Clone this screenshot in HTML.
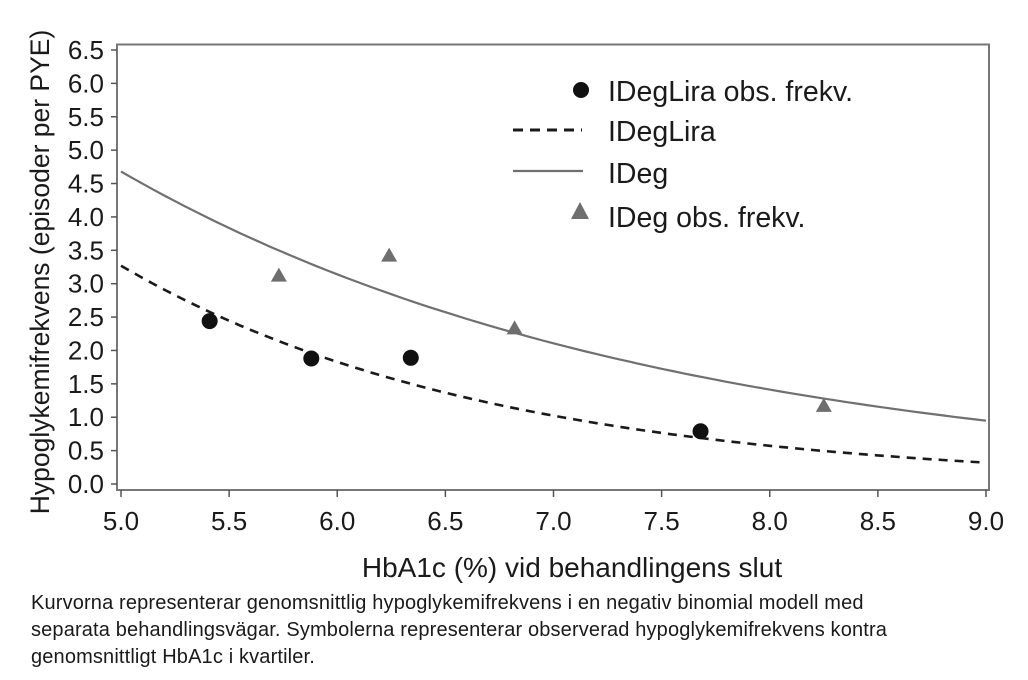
<!DOCTYPE html>
<html><head><meta charset="utf-8"><style>
body{margin:0;background:#fff;width:1028px;height:680px;overflow:hidden;font-family:"Liberation Sans","DejaVu Sans",sans-serif}
svg text{font-family:"Liberation Sans","DejaVu Sans",sans-serif;fill:#1a1a1a}
.cap{position:absolute;left:31px;top:590px;font-size:20px;letter-spacing:0.15px;line-height:27px;color:#1a1a1a;white-space:nowrap}
</style></head><body>
<svg id="s" width="1028" height="680" style="position:absolute;left:0;top:0">
<rect x="117" y="44.5" width="872" height="445.5" fill="none" stroke="#777" stroke-width="2"/>
<g id="ticks" stroke="#555" stroke-width="1.5"></g>
<g id="lbl" font-size="26"></g>
<path id="ideg" fill="none" stroke="#707070" stroke-width="2.2"/>
<path id="lira" fill="none" stroke="#1a1a1a" stroke-width="2.6" stroke-dasharray="9,7"/>
<g id="pts"></g>
<circle cx="581" cy="90" r="8" fill="#111"/>
<text x="608" y="101" font-size="28.5">IDegLira obs. frekv.</text>
<line x1="513" y1="130" x2="582" y2="130" stroke="#1a1a1a" stroke-width="3" stroke-dasharray="10,7"/>
<text x="608" y="141" font-size="28.5">IDegLira</text>
<line x1="513" y1="171" x2="583" y2="171" stroke="#707070" stroke-width="2.2"/>
<text x="608" y="183" font-size="28.5">IDeg</text>
<polygon points="580,202 571,219 589,219" fill="#6e6e6e"/>
<text x="608" y="227" font-size="28.5">IDeg obs. frekv.</text>
<text x="572" y="577" font-size="28" text-anchor="middle">HbA1c (%) vid behandlingens slut</text>
<text transform="translate(49,272) rotate(-90)" font-size="26.5" text-anchor="middle">Hypoglykemifrekvens (episoder per PYE)</text>
</svg>
<div class="cap">Kurvorna representerar genomsnittlig hypoglykemifrekvens i en negativ binomial modell med<br>separata behandlingsvägar. Symbolerna representerar observerad hypoglykemifrekvens kontra<br>genomsnittligt HbA1c i kvartiler.</div>
<script>
const px=x=>121+(x-5)*216.25, py=y=>484-y*66.77;
let t='',l='';
for(let i=0;i<=13;i++){const y=py(i*0.5);t+=`<line x1="111" y1="${y}" x2="117" y2="${y}"/>`;l+=`<text x="104" y="${y+9}" text-anchor="end">${(i*0.5).toFixed(1)}</text>`;}
for(let i=0;i<=8;i++){const x=px(5+i*0.5);t+=`<line x1="${x}" y1="490" x2="${x}" y2="497"/>`;l+=`<text x="${x}" y="530" text-anchor="middle">${(5+i*0.5).toFixed(1)}</text>`;}
document.getElementById('ticks').innerHTML=t;document.getElementById('lbl').innerHTML=l;
function curve(a,k){let d='';for(let x=5;x<=9.0001;x+=0.05){d+=(d?'L':'M')+px(x).toFixed(1)+','+py(a*Math.exp(k*(x-5))).toFixed(1);}return d;}
document.getElementById('ideg').setAttribute('d',curve(4.68,-0.399));
document.getElementById('lira').setAttribute('d',curve(3.27,-0.581));
let p='';
[[5.41,2.44],[5.88,1.88],[6.34,1.89],[7.68,0.79]].forEach(([x,y])=>p+=`<circle cx="${px(x)}" cy="${py(y)}" r="8" fill="#111"/>`);
[[5.73,3.12],[6.24,3.42],[6.82,2.33],[8.25,1.17]].forEach(([x,y])=>{const X=px(x),Y=py(y);p+=`<polygon points="${X},${Y-8} ${X-8},${Y+6} ${X+8},${Y+6}" fill="#6e6e6e"/>`;});
document.getElementById('pts').innerHTML=p;
</script>
</body></html>
